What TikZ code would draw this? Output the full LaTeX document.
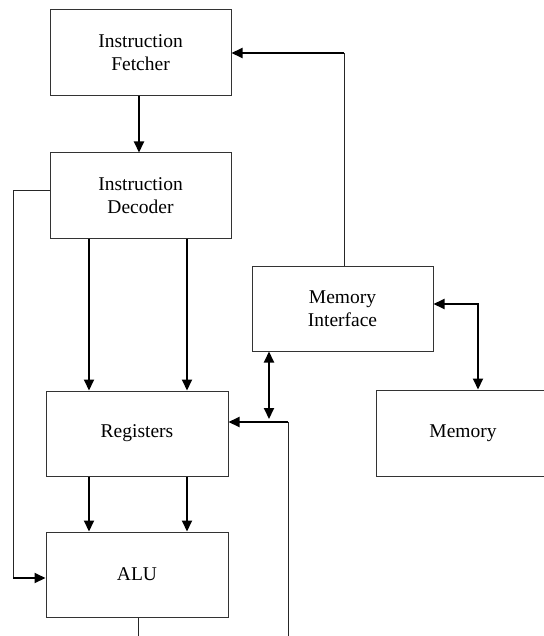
\documentclass[tikz,border=0pt]{standalone}
\usepackage{fontspec}
\setmainfont{Liberation Serif}
\usetikzlibrary{arrows.meta}
\begin{document}
\begin{tikzpicture}[x=1pt,y=-1pt,
  block/.style={draw=black!80, line width=1pt, fill=white, inner sep=0pt,
    align=center, font=\fontsize{19.5}{23}\selectfont},
  arr/.style={line width=2pt, -{Triangle[width=10pt,length=11pt]}},
  darr/.style={line width=2pt, {Triangle[width=10pt,length=11pt]}-{Triangle[width=10pt,length=11pt]}},
  thinline/.style={line width=1pt, black!85}]
\useasboundingbox (0,0) rectangle (543,636);

% functional blocks
\node[block, minimum width=181pt, minimum height=86pt] (fetch) at (140.5,53) {Instruction\\Fetcher};
\node[block, minimum width=181pt, minimum height=85pt] (decode) at (140.5,195.5) {Instruction\\Decoder};
\node[block, minimum width=182pt, minimum height=85pt] (regs) at (137,433.5) {Registers};
\node[block, minimum width=182pt, minimum height=85pt] (alu) at (137,574.5) {ALU};
\node[block, minimum width=181pt, minimum height=85pt] (memif) at (342.5,308.5) {Memory\\Interface};
\node[block, minimum width=174pt, minimum height=86pt] (mem) at (463,433) {Memory};

% routing points
\coordinate (c1) at (89,0);
\coordinate (c2) at (187,0);
\coordinate (dl) at (13,191);
\coordinate (dlb) at (13,578);
\coordinate (ab) at (138,636);
\coordinate (rb) at (288,636);
\coordinate (rt) at (288,422);
\coordinate (mt) at (344,53);
\coordinate (mb) at (269,419);
\coordinate (mr) at (478,304);

% fetcher to decoder
\draw[arr] (fetch.south -| 139,0) -- (decode.north -| 139,0);

% decoder to registers
\draw[arr] (decode.south -| c1) -- (regs.north -| c1);
\draw[arr] (decode.south -| c2) -- (regs.north -| c2);

% registers to ALU
\draw[arr] (regs.south -| c1) -- (alu.north -| c1);
\draw[arr] (regs.south -| c2) -- (alu.north -| c2);

% decoder control line into the ALU
\draw[thinline] (decode.west |- dl) -- (dl) -- (dlb);
\draw[arr] (dlb) -- (alu.west |- dlb);

% ALU output
\draw[thinline] (alu.south -| ab) -- (ab);

% result feed back into the registers
\draw[thinline] (rb) -- (rt);
\draw[arr] (rt) -- (regs.east |- rt);

% memory interface to fetcher
\draw[thinline] (memif.north -| mt) -- (mt);
\draw[arr] (mt) -- (fetch.east |- mt);

% memory interface to register bus
\draw[darr] (memif.south -| mb) -- (mb);

% memory interface to memory
\draw[darr] (memif.east |- mr) -- (mr) -- (mem.north -| mr);
\end{tikzpicture}
\end{document}
